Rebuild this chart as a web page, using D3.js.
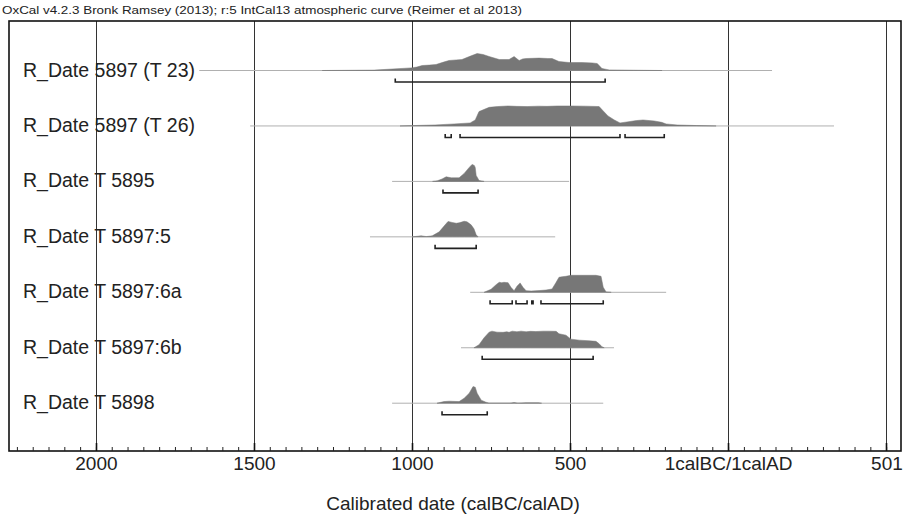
<!DOCTYPE html>
<html><head><meta charset="utf-8">
<script src="https://cdn.jsdelivr.net/npm/d3@7"></script>
<style>html,body{margin:0;padding:0;background:#fff;}svg{display:block;}</style>
</head><body><svg id="c" width="904" height="515"></svg>
<script>
// ---------- DATA ----------
const headerText = "OxCal v4.2.3 Bronk Ramsey (2013); r:5 IntCal13 atmospheric curve (Reimer et al 2013)";
const axisTitle = "Calibrated date (calBC/calAD)";
const labels = ["R_Date 5897 (T 23)","R_Date 5897 (T 26)","R_Date T 5895","R_Date T 5897:5","R_Date T 5897:6a","R_Date T 5897:6b","R_Date T 5898"];
// years BC positive, AD negative
const tickValues = [2000,1500,1000,500,0,-501];
const tickLabels = ["2000","1500","1000","500","1calBC/1calAD","501"];
const lineRanges = [[1673,-139],[1512,-335],[1063,503],[1133,547],[816,196],[845,361],[1063,395]];
const distT23 = [[1284,0],[1120,0.02],[1003,0.13],[985,0.17],[968,0.25],[945,0.27],[924,0.3],[900,0.42],[883,0.5],[860,0.53],[842,0.55],[815,0.72],[794,0.85],[775,0.8],[756,0.7],[724,0.55],[693,0.55],[677,0.7],[661,0.5],[650,0.58],[639,0.6],[598,0.62],[570,0.6],[557,0.6],[535,0.45],[503,0.4],[462,0.4],[430,0.38],[414,0.35],[399,0.1],[376,0.03],[300,0.015],[209,0]];
const distT26 = [[1038,0],[927,0.05],[867,0.1],[816,0.15],[800,0.3],[788,0.72],[756,0.93],[730,0.97],[696,1.0],[670,0.98],[636,0.97],[600,0.99],[573,0.98],[540,1.0],[500,1.0],[450,0.99],[408,0.97],[395,0.75],[380,0.5],[360,0.3],[342,0.15],[320,0.2],[290,0.27],[269,0.3],[250,0.27],[234,0.25],[210,0.18],[196,0.1],[161,0.05],[100,0.02],[38,0]];
const distT5895 = [[935,0],[920,0.03],[905,0.12],[892,0.23],[876,0.18],[851,0.18],[835,0.4],[819,0.7],[810,0.85],[803,0.8],[800,0.7],[797,0.3],[788,0.05],[772,0]];
const distT5897_5 = [[1000,0],[971,0.05],[955,0.015],[936,0.05],[914,0.25],[898,0.55],[886,0.77],[873,0.72],[860,0.68],[851,0.7],[835,0.78],[826,0.75],[813,0.6],[804,0.4],[797,0.1],[791,0]];
const distT5897_6a = [[772,0],[750,0.15],[734,0.38],[724,0.5],[716,0.48],[709,0.5],[696,0.48],[687,0.25],[677,0.08],[668,0.3],[658,0.47],[649,0.25],[639,0.08],[623,0.065],[598,0.085],[576,0.115],[557,0.165],[544,0.5],[535,0.75],[525,0.78],[513,0.8],[497,0.85],[462,0.85],[418,0.85],[402,0.8],[395,0.25],[386,0.02],[370,0]];
const distT5897_6b = [[804,0],[788,0.15],[772,0.5],[756,0.78],[747,0.83],[731,0.78],[712,0.77],[700,0.8],[693,0.77],[683,0.83],[668,0.8],[655,0.83],[639,0.8],[625,0.82],[608,0.81],[585,0.83],[566,0.83],[544,0.82],[535,0.7],[513,0.63],[497,0.43],[471,0.38],[440,0.35],[418,0.32],[408,0.2],[399,0.05],[392,0]];
const distT5898 = [[921,0],[899,0.08],[883,0.1],[851,0.08],[835,0.25],[819,0.5],[807,0.83],[800,0.8],[794,0.5],[781,0.15],[766,0.05],[756,0],[690,0],[677,0.035],[665,0],[640,0.02],[600,0.02],[590,0]];
const dists = [distT23,distT26,distT5895,distT5897_5,distT5897_6a,distT5897_6b,distT5898];
const hpdRanges = [[[1053,389]],[[895,876],[848,342],[326,202]],[[902,791]],[[927,797]],[[753,683],[671,636],[621,617],[592,395]],[[778,427]],[[905,762]]];

// ---------- LAYOUT ----------
const svg = d3.select("#c");
const L=9, R=901, T=21, B=451;
const x = d3.scaleLinear().domain([2275,-547]).range([L,R]);
const yRow = d3.scalePoint().domain(labels).range([70,402.7]);
const h = d3.scaleLinear().domain([0,1]).range([0,20]);
const font = "'Liberation Sans', Arial, sans-serif";

// header
svg.append("text").attr("x",2).attr("y",14).attr("font-family","'Liberation Sans Narrow','Arial Narrow',"+font)
  .attr("font-size",11).attr("fill","#222").attr("textLength",520).attr("lengthAdjust","spacingAndGlyphs").text(headerText);

// gridlines
svg.append("g").selectAll("line").data(tickValues).join("line")
  .attr("x1",d=>Math.round(x(d))+0.5).attr("x2",d=>Math.round(x(d))+0.5).attr("y1",T).attr("y2",B)
  .attr("stroke","#333").attr("stroke-width",1);

// rows
labels.forEach((lab,i)=>{
  const y0 = yRow(lab);
  const g = svg.append("g");
  g.append("text").attr("x",23).attr("y",y0+6.5).attr("font-family",font).attr("font-size",19.5).attr("fill","#222").text(lab);
  g.append("line").attr("x1",x(lineRanges[i][0])).attr("x2",x(lineRanges[i][1])).attr("y1",y0+0.5).attr("y2",y0+0.5)
    .attr("stroke","#b0b0b0").attr("stroke-width",1);
  const area = d3.area().x(d=>x(d[0])).y0(y0+0.5).y1(d=>y0+0.5-h(d[1]));
  g.append("path").attr("d",area(dists[i])).attr("fill","#777").attr("stroke","#777").attr("stroke-width",0.5);
  const by = y0+12;
  hpdRanges[i].forEach(r=>{
    const x1=x(r[0]), x2=x(r[1]);
    g.append("path").attr("d",`M${x1},${by-3.5}V${by}H${x2}V${by-3.5}`)
      .attr("fill","none").attr("stroke","#222").attr("stroke-width",1.6);
  });
});

// frame
svg.append("rect").attr("x",L).attr("y",T).attr("width",R-L).attr("height",B-T)
  .attr("fill","none").attr("stroke","#111").attr("stroke-width",1.6);

// bottom ticks via axis
const minor = d3.range(2250,-550,-50);
const axisG = svg.append("g").attr("transform",`translate(0,${B})`);
axisG.call(d3.axisTop(x).tickValues(minor).tickSize(4).tickFormat(""));
axisG.select(".domain").remove();
axisG.selectAll(".tick line").attr("stroke","#222").attr("stroke-width",1);
const majG = svg.append("g").attr("transform",`translate(0,${B})`);
majG.call(d3.axisBottom(x).tickValues(tickValues).tickSize(0).tickPadding(6).tickFormat((d,i)=>tickLabels[i]));
majG.select(".domain").remove();
majG.selectAll("text").attr("font-family",font).attr("font-size",19).attr("fill","#222");
svg.append("g").selectAll("line").data(tickValues).join("line")
  .attr("x1",d=>Math.round(x(d))+0.5).attr("x2",d=>Math.round(x(d))+0.5).attr("y1",B-8).attr("y2",B)
  .attr("stroke","#111").attr("stroke-width",1.6);

// axis title
svg.append("text").attr("x",453).attr("y",510).attr("text-anchor","middle").attr("font-family",font)
  .attr("font-size",19).attr("fill","#222").text(axisTitle);
</script></body></html>
